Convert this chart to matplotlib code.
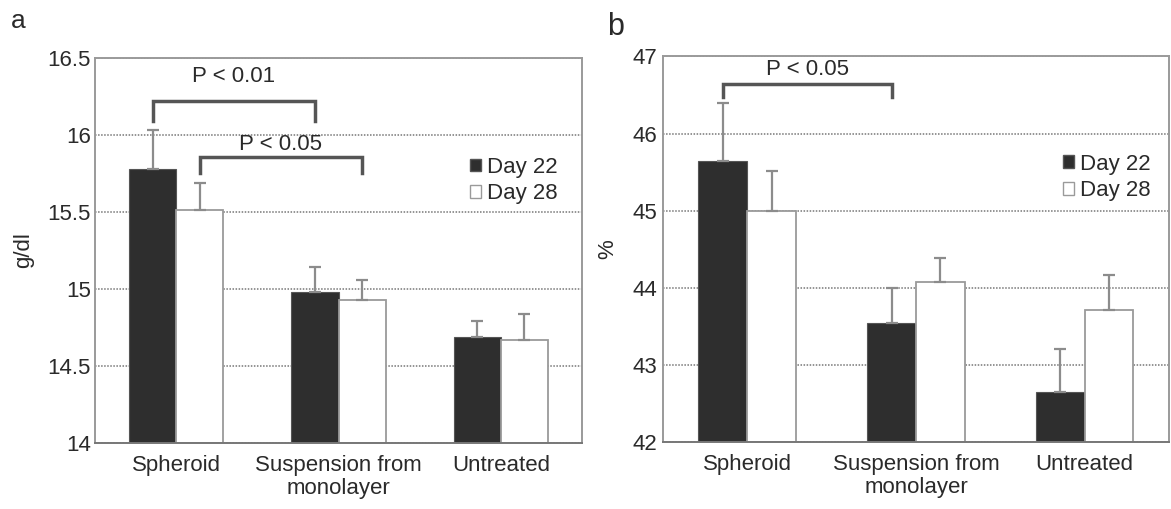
import matplotlib.pyplot as plt
from matplotlib.patches import Patch
import numpy as np

plt.rcParams['font.family'] = ['Liberation Sans', 'DejaVu Sans']

categories = ['Spheroid', 'Suspension from\nmonolayer', 'Untreated']
series = ['Day 22', 'Day 28']

# panel a: haemoglobin, g/dl
hb_d22 = [15.78, 14.98, 14.69]
hb_d22_err = [0.25, 0.16, 0.10]
hb_d28 = [15.51, 14.93, 14.67]
hb_d28_err = [0.18, 0.13, 0.17]

# panel b: haematocrit, %
hct_d22 = [45.64, 43.54, 42.64]
hct_d22_err = [0.76, 0.46, 0.57]
hct_d28 = [45.00, 44.07, 43.71]
hct_d28_err = [0.51, 0.32, 0.46]

# significance brackets: (from bar, to bar, top, end, label, label y)
brackets_a = [((0, 0), (1, 0), 16.22, 16.09, 'P < 0.01', 16.38),
              ((0, 1), (1, 1), 15.86, 15.75, 'P < 0.05', 15.94)]
brackets_b = [((0, 0), (1, 0), 46.64, 46.48, 'P < 0.05', 46.83)]

dark = '#2e2e2e'
txt = '#2a2a2a'
grey = '#8c8c8c'
w = 0.29

fig = plt.figure(figsize=(11.71, 5.09), dpi=100)
ax_a = fig.add_axes([0.0811, 0.130, 0.416, 0.756])
ax_b = fig.add_axes([0.5662, 0.132, 0.432, 0.757])


def draw(ax, d22, e22, d28, e28, ylim, step, ylabel, brackets, ypad):
    x = np.arange(len(categories))
    ax.set_axisbelow(True)
    ax.yaxis.grid(True, color='#777777', linestyle=(0, (1, 1)), lw=1.1)
    ax.bar(x - w / 2, np.array(d22) - ylim[0], w, bottom=ylim[0], color=dark,
           edgecolor='#555555', lw=0.8, zorder=2)
    ax.bar(x + w / 2, np.array(d28) - ylim[0], w, bottom=ylim[0], color='white',
           edgecolor='#9a9a9a', lw=1.3, zorder=2)
    for off, v, e in [(-w / 2, d22, e22), (w / 2, d28, e28)]:
        ax.errorbar(x + off, v, yerr=[np.zeros(len(v)), e], fmt='none',
                    ecolor=grey, elinewidth=1.6, capsize=4, capthick=1.6, zorder=3)
    for (g1, s1), (g2, s2), top, end, label, ly in brackets:
        x1 = g1 + (s1 - 0.5) * w
        x2 = g2 + (s2 - 0.5) * w
        ax.plot([x1, x1, x2, x2], [end, top, top, end], color='#555555',
                lw=2.5, solid_joinstyle='miter', zorder=4)
        ax.text((x1 + x2) / 2, ly, label, ha='center', va='center',
                fontsize=16, color=txt)
    ax.set_xlim(-0.5, 2.5)
    ax.set_ylim(*ylim)
    ax.set_yticks(np.arange(ylim[0], ylim[1] + step / 2, step))
    ax.set_yticklabels([f'{t:g}' for t in ax.get_yticks()])
    ax.set_xticks(x)
    ax.set_xticklabels(categories, linespacing=1.1)
    ax.tick_params(axis='both', length=0, labelsize=16, colors=txt)
    ax.tick_params(axis='x', pad=9)
    ax.tick_params(axis='y', pad=ypad)
    for s in ax.spines.values():
        s.set_color('#9a9a9a')
        s.set_linewidth(1.4)
    ax.spines['bottom'].set_color('#777777')
    ax.set_ylabel(ylabel, fontsize=16, color=txt)
    handles = [Patch(facecolor=dark, edgecolor='#555555'),
               Patch(facecolor='white', edgecolor='#9a9a9a')]
    return handles


h = draw(ax_a, hb_d22, hb_d22_err, hb_d28, hb_d28_err, (14, 16.5), 0.5, 'g/dl',
         brackets_a, 3)
ax_a.legend(h, series, loc='upper right', bbox_to_anchor=(0.99, 0.795),
            frameon=False, fontsize=16, handlelength=0.5, handleheight=0.5,
            handletextpad=0.25, labelspacing=0.25, labelcolor=txt)
ax_a.yaxis.set_label_coords(-0.125, 0.5)

h = draw(ax_b, hct_d22, hct_d22_err, hct_d28, hct_d28_err, (42, 47), 1, '%',
         brackets_b, 4)
ax_b.legend(h, series, loc='upper right', bbox_to_anchor=(1.003, 0.80),
            frameon=False, fontsize=16, handlelength=0.5, handleheight=0.5,
            handletextpad=0.25, labelspacing=0.25, labelcolor=txt)
ax_b.yaxis.set_label_coords(-0.088, 0.5)

fig.text(18 / 1171, 1 - 21 / 509, 'a', fontsize=19, color=txt, ha='center', va='center')
fig.text(616 / 1171, 1 - 27 / 509, 'b', fontsize=22, color=txt, ha='center', va='center')

fig.savefig('out.png', dpi=100)
